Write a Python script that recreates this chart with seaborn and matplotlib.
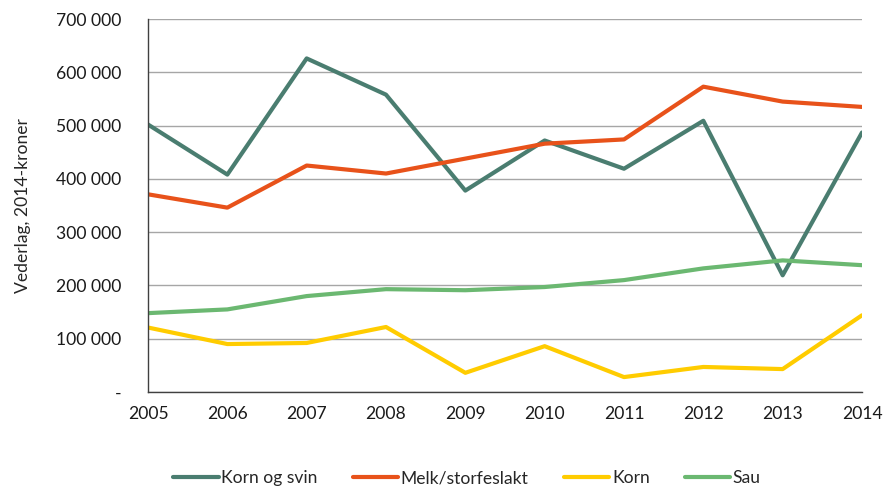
import numpy as np
import pandas as pd
import matplotlib.pyplot as plt
import seaborn as sns
from matplotlib.ticker import FuncFormatter

# data
years = [2005, 2006, 2007, 2008, 2009, 2010, 2011, 2012, 2013, 2014]
korn_og_svin = [502000, 408000, 626000, 558000, 378000, 472000, 419000, 509000, 219000, 487000]
melk_storfe = [371000, 346000, 425000, 410000, 438000, 466000, 474000, 573000, 545000, 535000]
korn = [121000, 90000, 92000, 122000, 36000, 86000, 28000, 47000, 43000, 144000]
sau = [148000, 155000, 180000, 193000, 191000, 197000, 210000, 232000, 247000, 238000]

series_names = ['Korn og svin', 'Melk/storfeslakt', 'Korn', 'Sau']
colors = ['#4A7D70', '#E8521A', '#FFCC00', '#6BB871']

df = pd.DataFrame({
    'År': years * 4,
    'Verdi': korn_og_svin + melk_storfe + korn + sau,
    'Gruppe': np.repeat(series_names, len(years)),
})

sns.set_style('white')
plt.rcParams['font.family'] = ['Lato', 'DejaVu Sans']

fig = plt.figure(figsize=(8.84, 4.9), dpi=100)
ax = fig.add_axes([148 / 884, 1 - 392 / 490, (862 - 148) / 884, (392 - 19) / 490])

sns.lineplot(data=df, x='År', y='Verdi', hue='Gruppe', hue_order=series_names,
             palette=colors, linewidth=3, ax=ax, legend=True)

# axes formatting
ax.set_xlim(2005, 2014)
ax.set_ylim(0, 700000)
ax.set_xticks(years)
ax.set_yticks(np.arange(0, 700001, 100000))

def fmt(v, pos):
    if v == 0:
        return '-'
    return f'{int(v):,}'.replace(',', ' ')

ax.yaxis.set_major_formatter(FuncFormatter(fmt))
ax.grid(axis='y', color='#A6A6A6', linewidth=1)
ax.set_axisbelow(True)
for s in ['top', 'right']:
    ax.spines[s].set_visible(False)
for s in ['left', 'bottom']:
    ax.spines[s].set_color('#404040')
    ax.spines[s].set_linewidth(1)
ax.tick_params(axis='both', direction='out', length=5, color='#404040',
               labelsize=12.6, labelcolor='#1a1a1a', pad=5)
ax.tick_params(axis='y', pad=14)
ax.set_xlabel('')
ax.set_ylabel('Vederlag, 2014-kroner', fontsize=12.6, labelpad=18)

# legend at bottom
handles, labels = ax.get_legend_handles_labels()
for h in handles:
    h.set_linewidth(3)
ax.legend(handles, labels, loc='center', bbox_to_anchor=((467 - 148) / 714, -(478 - 392) / 373),
          ncol=4, frameon=False, fontsize=12.6, handlelength=2.6,
          columnspacing=2.0, handletextpad=0.15)

plt.savefig('out.png', dpi=100)
